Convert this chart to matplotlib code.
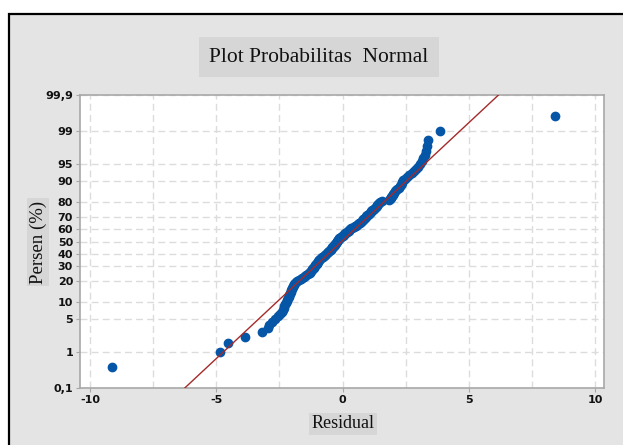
import matplotlib
matplotlib.use('Agg')
import matplotlib.pyplot as plt
import matplotlib.patches as patches
from matplotlib.ticker import MultipleLocator, NullLocator
from statistics import NormalDist
import numpy as np

plt.rcParams['axes.unicode_minus'] = False

# residual (urut)
residual = [
    -9.15, -4.84, -4.53, -3.87, -3.20,
    -2.97, -2.91, -2.80, -2.69, -2.57, -2.48, -2.42, -2.36, -2.33, -2.31,
    -2.28, -2.25, -2.22, -2.20, -2.17, -2.14, -2.12, -2.09, -2.08, -2.06,
    -2.04, -2.02, -2.00, -1.98, -1.96, -1.93, -1.91, -1.88, -1.86, -1.81,
    -1.74, -1.66, -1.59, -1.54, -1.49, -1.44, -1.39, -1.34, -1.31, -1.28,
    -1.26, -1.23, -1.20, -1.18, -1.15, -1.12, -1.10, -1.08, -1.06, -1.03,
    -1.01, -0.99, -0.97, -0.94, -0.92, -0.88, -0.85, -0.81, -0.78, -0.74,
    -0.71, -0.68, -0.64, -0.61, -0.59, -0.56, -0.53, -0.51, -0.48, -0.46,
    -0.43, -0.41, -0.38, -0.36, -0.34, -0.32, -0.30, -0.27, -0.25, -0.23,
    -0.21, -0.19, -0.17, -0.15, -0.13, -0.10, -0.06, -0.03, 0.00, 0.04,
    0.07, 0.10, 0.14, 0.17, 0.20, 0.24, 0.27, 0.31, 0.35, 0.39,
    0.44, 0.48, 0.53, 0.57, 0.61, 0.65, 0.69, 0.72, 0.75, 0.79,
    0.82, 0.85, 0.88, 0.91, 0.94, 0.98, 1.01, 1.04, 1.07, 1.11,
    1.14, 1.17, 1.21, 1.24, 1.28, 1.31, 1.35, 1.38, 1.41, 1.45,
    1.48, 1.55, 1.82, 1.87, 1.90, 1.93, 1.95, 1.98, 2.01, 2.04,
    2.09, 2.13, 2.17, 2.22, 2.26, 2.30, 2.34, 2.37, 2.41, 2.48,
    2.56, 2.64, 2.73, 2.82, 2.92, 2.99, 3.06, 3.13, 3.20, 3.25,
    3.30, 3.34, 3.40, 3.86, 8.40,
]
fit_mean = -0.04
fit_sd = 2.01

persen_ticks = [0.1, 1, 5, 10, 20, 30, 40, 50, 60, 70, 80, 90, 95, 99, 99.9]
persen_labels = ['0,1', '1', '5', '10', '20', '30', '40', '50', '60', '70',
                 '80', '90', '95', '99', '99,9']
x_ticks = [-10, -5, 0, 5, 10]

nd = NormalDist()
_ppf = np.vectorize(nd.inv_cdf, otypes=[float])
_cdf = np.vectorize(nd.cdf, otypes=[float])

def fwd(p):
    p = np.clip(np.asarray(p, dtype=float) / 100.0, 1e-9, 1 - 1e-9)
    return _ppf(p)

def inv(z):
    return _cdf(np.asarray(z, dtype=float)) * 100.0

# median rank (Benard) seperti Minitab
n = len(residual)
rank = np.arange(1, n + 1)
persen = (rank - 0.3) / (n + 0.4) * 100

fig = plt.figure(figsize=(6.23, 4.45), dpi=100)
fig.patch.set_facecolor('white')

# bingkai luar
fig.patches.append(patches.Rectangle((9 / 623, -0.1), 1.2, (445 - 14) / 445 + 0.1,
                                     transform=fig.transFigure, facecolor='#e4e4e4',
                                     edgecolor='black', lw=1.6, zorder=-5))

ax = fig.add_axes([80 / 623, (445 - 388) / 445, 524 / 623, 293 / 445])
ax.set_zorder(2)
ax.set_facecolor('white')
ax.set_yscale('function', functions=(fwd, inv))

ax.plot(residual, persen, 'o', color='#0656a8', markersize=6, zorder=3)

p_line = np.array([0.1, 99.9])
x_line = fit_mean + fit_sd * fwd(p_line)
ax.plot(x_line, p_line, color='#a52a2a', lw=1.0, zorder=4)

ax.set_xlim(-10.4, 10.35)
ax.set_ylim(0.1, 99.9)
ax.set_xticks(x_ticks)
ax.xaxis.set_minor_locator(MultipleLocator(2.5))
ax.set_yticks(persen_ticks)
ax.set_yticklabels(persen_labels)
ax.yaxis.set_minor_locator(NullLocator())

ax.grid(True, which='both', axis='x', color='#dcdcdc', lw=1, linestyle=(0, (5, 3)))
ax.grid(True, which='major', axis='y', color='#dcdcdc', lw=1, linestyle=(0, (5, 3)))
ax.set_axisbelow(True)

for s in ax.spines.values():
    s.set_color('#a8a8a8')
    s.set_linewidth(1.2)

ax.tick_params(which='major', length=3, color='#a8a8a8', labelsize=8,
               labelcolor='#111111', pad=2)
ax.tick_params(which='minor', length=0)
for lbl in ax.get_xticklabels() + ax.get_yticklabels():
    lbl.set_fontfamily('DejaVu Sans')
    lbl.set_fontweight('semibold')

fig.text(319 / 623, 1 - 57 / 445, 'Plot Probabilitas  Normal', ha='center', va='center',
         family='Liberation Serif', fontsize=15.5, color='#111111',
         bbox=dict(facecolor='#d6d6d6', edgecolor='none', boxstyle='square,pad=0.5'))
fig.text(38 / 623, 1 - 242 / 445, 'Persen (%)', ha='center', va='center', rotation=90,
         family='Liberation Serif', fontsize=13.5, color='#111111',
         bbox=dict(facecolor='#d6d6d6', edgecolor='none', boxstyle='square,pad=0.12'))
fig.text(343 / 623, 1 - 424 / 445, 'Residual', ha='center', va='center',
         family='Liberation Serif', fontsize=13, color='#111111',
         bbox=dict(facecolor='#d6d6d6', edgecolor='none', boxstyle='square,pad=0.12'))

fig.savefig('out.png', dpi=100)
